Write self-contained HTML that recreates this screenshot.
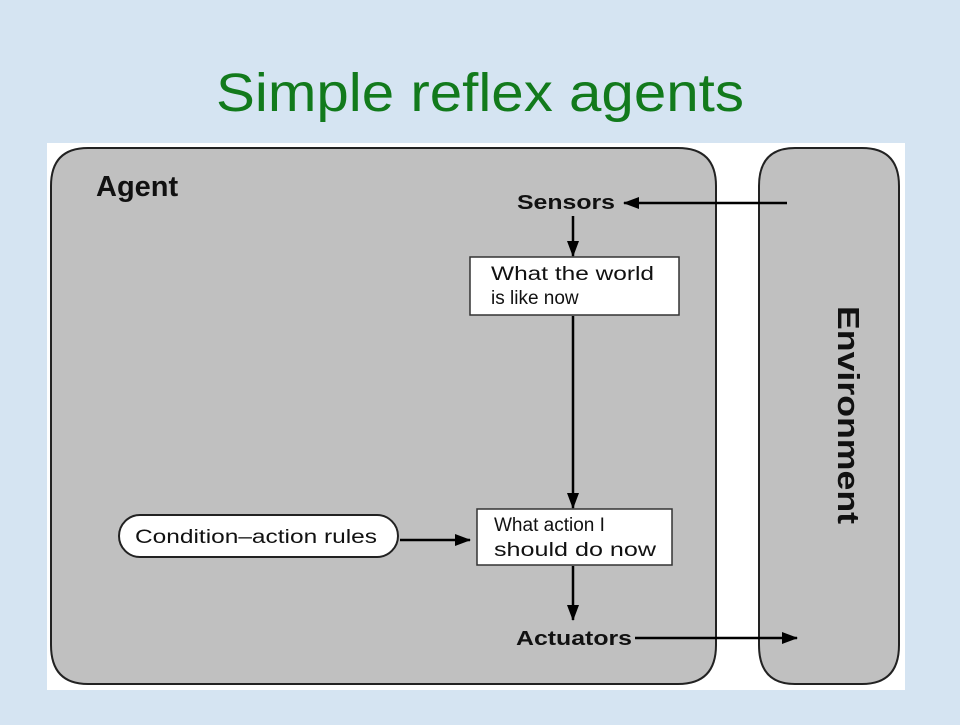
<!DOCTYPE html>
<html><head><meta charset="utf-8"><style>
body{margin:0;width:960px;height:720px;background:#d5e4f2;overflow:hidden;font-family:"Liberation Sans",sans-serif}
</style></head><body>
<svg width="960" height="720" viewBox="0 0 960 720" xmlns="http://www.w3.org/2000/svg">
<defs>
<marker id="a" markerWidth="16" markerHeight="12" refX="15" refY="6" orient="auto" markerUnits="userSpaceOnUse"><path d="M0,0 L16,6 L0,12 Z" fill="#000"/></marker>
</defs>
<rect width="960" height="720" fill="#d5e4f2"/>
<text x="480" y="111" text-anchor="middle" font-size="54" fill="#127a1c" font-family="Liberation Sans, sans-serif" textLength="528" lengthAdjust="spacingAndGlyphs">Simple reflex agents</text>
<rect x="47" y="143" width="858" height="547" fill="#fff"/>
<path d="M88,148 L678,148 Q716,148 716,186 L716,645 Q716,684 678,684 L88,684 Q51,684 51,645 L51,186 Q51,148 88,148 Z" fill="#c0c0c0" stroke="#222" stroke-width="2"/>
<path d="M795,148 L862,148 Q899,148 899,186 L899,645 Q899,684 862,684 L795,684 Q759,684 759,645 L759,186 Q759,148 795,148 Z" fill="#c0c0c0" stroke="#222" stroke-width="2"/>
<text x="96" y="196" font-size="29" font-weight="bold" fill="#111">Agent</text>
<text x="838" y="415" font-size="31" font-weight="bold" fill="#111" text-anchor="middle" transform="rotate(90 838 415)" textLength="218" lengthAdjust="spacingAndGlyphs">Environment</text>
<text x="566" y="209" font-size="20" font-weight="bold" fill="#111" text-anchor="middle" textLength="98" lengthAdjust="spacingAndGlyphs">Sensors</text>
<text x="574" y="645" font-size="20" font-weight="bold" fill="#111" text-anchor="middle" textLength="116" lengthAdjust="spacingAndGlyphs">Actuators</text>
<rect x="470" y="257" width="209" height="58" fill="#fff" stroke="#333" stroke-width="1.5"/>
<text x="491" y="280" font-size="19" fill="#111" textLength="163" lengthAdjust="spacingAndGlyphs">What the world</text>
<text x="491" y="304" font-size="19" fill="#111">is like now</text>
<rect x="477" y="509" width="195" height="56" fill="#fff" stroke="#333" stroke-width="1.5"/>
<text x="494" y="531" font-size="19" fill="#111">What action I</text>
<text x="494" y="556" font-size="19" fill="#111" textLength="162" lengthAdjust="spacingAndGlyphs">should do now</text>
<rect x="119" y="515" width="279" height="42" rx="21" fill="#fff" stroke="#222" stroke-width="2"/>
<text x="256" y="543" font-size="19" fill="#111" text-anchor="middle" textLength="242" lengthAdjust="spacingAndGlyphs">Condition–action rules</text>
<g stroke="#000" stroke-width="2.5" fill="none">
<line x1="787" y1="203" x2="624" y2="203" marker-end="url(#a)"/>
<line x1="573" y1="216" x2="573" y2="256" marker-end="url(#a)"/>
<line x1="573" y1="316" x2="573" y2="508" marker-end="url(#a)"/>
<line x1="400" y1="540" x2="470" y2="540" marker-end="url(#a)"/>
<line x1="573" y1="566" x2="573" y2="620" marker-end="url(#a)"/>
<line x1="635" y1="638" x2="797" y2="638" marker-end="url(#a)"/>
</g>
</svg>
</body></html>
